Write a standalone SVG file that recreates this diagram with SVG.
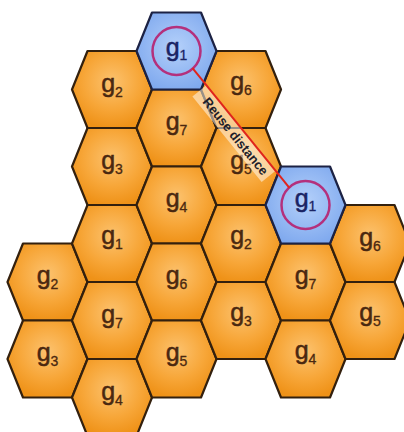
<svg xmlns="http://www.w3.org/2000/svg" xmlns:xlink="http://www.w3.org/1999/xlink" width="404" height="432" viewBox="0 0 404 432">
<defs>
<radialGradient id="gOrg" cx="50%" cy="40%" r="60%">
<stop offset="0" stop-color="#fcc26e"/>
<stop offset="0.6" stop-color="#f7a638"/>
<stop offset="1" stop-color="#ef9218"/>
</radialGradient>
<radialGradient id="gBlue" cx="50%" cy="45%" r="60%">
<stop offset="0" stop-color="#b4d0fa"/>
<stop offset="1" stop-color="#7ea8ee"/>
</radialGradient>
<path id="hex" d="M-40,0 L-24.5,-38.5 L24.5,-38.5 L40,0 L24.5,38.5 L-24.5,38.5 Z"/>
<style>
.org{fill:url(#gOrg);stroke:#33200e;stroke-width:2.2;stroke-linejoin:round}
.blu{fill:url(#gBlue);stroke:#1c2244;stroke-width:2.2;stroke-linejoin:round}
.lb{font-family:"Liberation Sans",Arial,sans-serif;font-size:25px;fill:#4a2810;stroke:#4a2810;stroke-width:0.5;text-anchor:middle}
.lbb{fill:#1a2464;stroke:#1a2464}
.sub{font-size:14px;stroke-width:0.3}
.ring{fill:none;stroke:#b4307c;stroke-width:2.5}
.rd{font-family:"Liberation Sans",Arial,sans-serif;font-size:13px;font-weight:bold;fill:#1e1e2a;text-anchor:middle}
</style>
</defs>
<rect width="404" height="432" fill="#ffffff"/>

<g id="A-g2" transform="translate(47.5,282)"><use href="#hex" class="org"/><text class="lb" y="2">g<tspan class="sub" dy="5">2</tspan></text></g>
<g id="A-g3" transform="translate(47.5,359)"><use href="#hex" class="org"/><text class="lb" y="2">g<tspan class="sub" dy="5">3</tspan></text></g>

<g id="B-g2" transform="translate(112,89.5)"><use href="#hex" class="org"/><text class="lb" y="2">g<tspan class="sub" dy="5">2</tspan></text></g>
<g id="B-g3" transform="translate(112,166.5)"><use href="#hex" class="org"/><text class="lb" y="2">g<tspan class="sub" dy="5">3</tspan></text></g>
<g id="B-g1" transform="translate(112,243.5)"><use href="#hex" class="org"/><text class="lb" y="0">g<tspan class="sub" dy="5">1</tspan></text></g>
<g id="B-g7" transform="translate(112,320.5)"><use href="#hex" class="org"/><text class="lb" y="2">g<tspan class="sub" dy="5">7</tspan></text></g>
<g id="B-g4" transform="translate(112,397.5)"><use href="#hex" class="org"/><text class="lb" y="2">g<tspan class="sub" dy="5">4</tspan></text></g>

<g id="C-g7" transform="translate(176.5,128)"><use href="#hex" class="org"/><text class="lb" y="2">g<tspan class="sub" dy="5">7</tspan></text></g>
<g id="C-g4" transform="translate(176.5,205)"><use href="#hex" class="org"/><text class="lb" y="2">g<tspan class="sub" dy="5">4</tspan></text></g>
<g id="C-g6" transform="translate(176.5,282)"><use href="#hex" class="org"/><text class="lb" y="2">g<tspan class="sub" dy="5">6</tspan></text></g>
<g id="C-g5" transform="translate(176.5,359)"><use href="#hex" class="org"/><text class="lb" y="2">g<tspan class="sub" dy="5">5</tspan></text></g>

<g id="D-g6" transform="translate(241,89.5)"><use href="#hex" class="org"/><text class="lb" y="0">g<tspan class="sub" dy="5">6</tspan></text></g>
<g id="D-g5" transform="translate(241,166.5)"><use href="#hex" class="org"/><text class="lb" y="2">g<tspan class="sub" dy="5">5</tspan></text></g>
<g id="D-g2" transform="translate(241,243.5)"><use href="#hex" class="org"/><text class="lb" y="0">g<tspan class="sub" dy="5">2</tspan></text></g>
<g id="D-g3" transform="translate(241,320.5)"><use href="#hex" class="org"/><text class="lb" y="0">g<tspan class="sub" dy="5">3</tspan></text></g>

<g id="E-g7" transform="translate(305.5,282)"><use href="#hex" class="org"/><text class="lb" y="2">g<tspan class="sub" dy="5">7</tspan></text></g>
<g id="E-g4" transform="translate(305.5,359)"><use href="#hex" class="org"/><text class="lb" y="0">g<tspan class="sub" dy="5">4</tspan></text></g>

<g id="F-g6" transform="translate(370,243.5)"><use href="#hex" class="org"/><text class="lb" y="2">g<tspan class="sub" dy="5">6</tspan></text></g>
<g id="F-g5" transform="translate(370,320.5)"><use href="#hex" class="org"/><text class="lb" y="0">g<tspan class="sub" dy="5">5</tspan></text></g>

<g id="C-g1" transform="translate(176.5,51)"><use href="#hex" class="blu"/><circle class="ring" r="24"/><text class="lb lbb" y="5">g<tspan class="sub" dy="4">1</tspan></text></g>
<g id="E-g1" transform="translate(305.5,205)"><use href="#hex" class="blu"/><circle class="ring" r="24"/><text class="lb lbb" y="2">g<tspan class="sub" dy="4">1</tspan></text></g>

<g id="connectors">
<g transform="translate(241,128) rotate(51)">
<rect x="-55" y="0" width="110" height="18" fill="#ffffff" fill-opacity="0.5"/>
<line x1="-77" y1="0" x2="77" y2="0" stroke="#e0241c" stroke-width="2"/>
<text class="rd" x="3" y="14">Reuse distance</text>
</g>
</g>
</svg>
